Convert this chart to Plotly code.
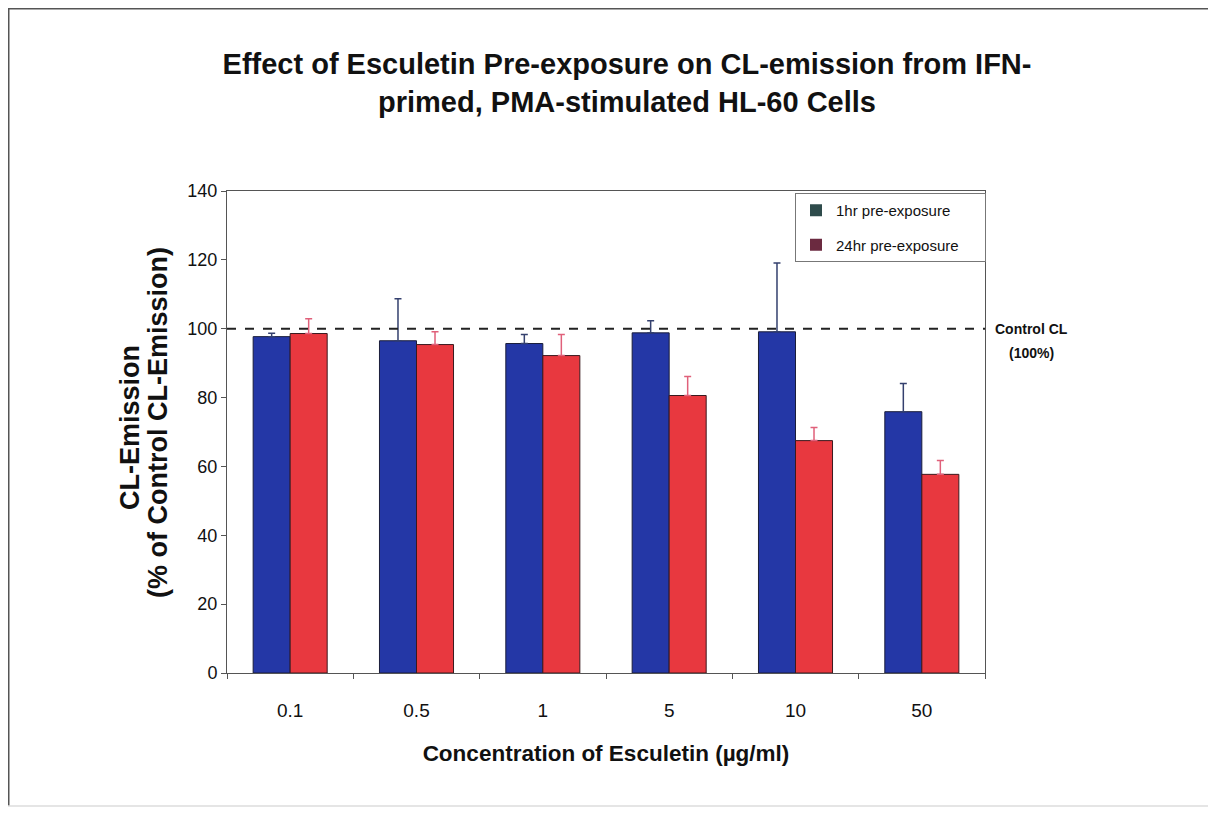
import plotly.graph_objects as go

categories = ["0.1", "0.5", "1", "5", "10", "50"]
one_hr = [97.7, 96.5, 95.7, 98.8, 99.1, 75.9]
one_hr_err = [1.0, 12.2, 2.6, 3.5, 20.0, 8.2]
twentyfour_hr = [98.6, 95.4, 92.2, 80.6, 67.5, 57.7]
twentyfour_hr_err = [4.3, 3.7, 6.1, 5.5, 3.8, 4.0]
control_level = 100
y_ticks = [0, 20, 40, 60, 80, 100, 120, 140]

SANS = "Liberation Sans, Arial, sans-serif"

# the page body adds an 8px margin; the figure is sized to fit the 1216x815 window
OFF = 8
W, H = 1216 - 2 * OFF, 815 - 2 * OFF
PL, PR, PT, PB = 227, 985, 191, 673          # plot area in page pixels
L, T = PL - OFF, PT - OFF
R, B = W - (PR - OFF), H - (PB - OFF)
PW, PH = W - L - R, H - T - B


def px(x):
    return (x - OFF - L) / PW


def py(y):
    return (H - B - (y - OFF)) / PH


fig = go.Figure()
fig.add_trace(go.Bar(
    x=categories, y=one_hr, name="1hr pre-exposure", showlegend=False,
    marker=dict(color="#2437a6", line=dict(color="#1a1d3a", width=1)),
    error_y=dict(type="data", array=one_hr_err, arrayminus=[0] * len(one_hr),
                 symmetric=False, color="#34406e", thickness=1.5, width=3.5),
))
fig.add_trace(go.Bar(
    x=categories, y=twentyfour_hr, name="24hr pre-exposure", showlegend=False,
    marker=dict(color="#e8383f", line=dict(color="#3a1a1f", width=1)),
    error_y=dict(type="data", array=twentyfour_hr_err, arrayminus=[0] * len(twentyfour_hr),
                 symmetric=False, color="#e0607a", thickness=1.5, width=3.5),
))
# legend swatches
pad = "\u00a0" * 5
fig.add_trace(go.Scatter(x=[None], y=[None], mode="markers", name="1hr pre-exposure" + pad,
                         marker=dict(symbol="square", size=9, color="#2e4b4b"),
                         legendgroup="a"))
fig.add_trace(go.Scatter(x=[None], y=[None], mode="markers", name="24hr pre-exposure" + pad,
                         marker=dict(symbol="square", size=9, color="#6b2a40"),
                         legendgroup="b"))

fig.add_shape(type="line", xref="paper", yref="y", x0=0, x1=1,
              y0=control_level, y1=control_level,
              line=dict(color="#222222", width=2, dash="dash"))

# outer frame: strong left/top edges, faint bottom edge
fig.add_shape(type="line", xref="paper", yref="paper",
              x0=px(OFF + 0.75), x1=px(OFF + 0.75), y0=py(OFF + H - 1), y1=py(OFF + 0.75),
              line=dict(color="#555555", width=1.5), layer="below")
fig.add_shape(type="line", xref="paper", yref="paper",
              x0=px(OFF), x1=px(OFF + W), y0=py(OFF + 0.75), y1=py(OFF + 0.75),
              line=dict(color="#555555", width=1.5), layer="below")
fig.add_shape(type="line", xref="paper", yref="paper",
              x0=px(OFF), x1=px(OFF + W), y0=py(OFF + H - 1), y1=py(OFF + H - 1),
              line=dict(color="#dddddd", width=1.5), layer="below")

fig.add_annotation(xref="paper", yref="y", x=px(993), y=control_level,
                   text="<b>Control CL</b>", showarrow=False, xanchor="left",
                   yanchor="middle", font=dict(family=SANS, size=14, color="#111"))
fig.add_annotation(xref="paper", yref="y", x=px(1007), y=control_level - 7,
                   text="<b>(100%)</b>", showarrow=False, xanchor="left",
                   yanchor="middle", font=dict(family=SANS, size=14, color="#111"))

# y-axis title as two rotated lines
fig.add_annotation(xref="paper", yref="paper", x=px(130), y=py(428),
                   text="<b>CL-Emission</b>", showarrow=False, textangle=-90,
                   xanchor="center", yanchor="middle",
                   font=dict(family=SANS, size=27, color="#111"))
fig.add_annotation(xref="paper", yref="paper", x=px(158), y=py(423),
                   text="<b>(% of Control CL-Emission)</b>", showarrow=False, textangle=-90,
                   xanchor="center", yanchor="middle",
                   font=dict(family=SANS, size=27, color="#111"))

fig.update_layout(
    width=W, height=H,
    margin=dict(l=L, r=R, t=T, b=B),
    paper_bgcolor="white", plot_bgcolor="white",
    barmode="group", bargap=0.414, bargroupgap=0,
    title=dict(text="<b>Effect of Esculetin Pre-exposure on CL-emission from IFN-<br>primed, PMA-stimulated HL-60 Cells</b>",
               xref="container", x=(627 - OFF) / W, xanchor="center",
               y=1 - 66 / H, yanchor="middle",
               font=dict(family=SANS, size=29, color="#111")),
    legend=dict(x=px(795), y=py(193), xanchor="left", yanchor="top",
                bgcolor="white", bordercolor="#777777", borderwidth=1,
                font=dict(family=SANS, size=15, color="#111"),
                tracegroupgap=12, itemsizing="constant"),
    font=dict(family=SANS, color="#111"),
)
fig.update_xaxes(
    showline=True, linecolor="#555555", linewidth=1, mirror=True,
    ticks="outside", tickson="boundaries", ticklen=5, tickcolor="#555555",
    tickfont=dict(family=SANS, size=19, color="#111"), ticklabelstandoff=20,
    title=dict(text="<b>Concentration of Esculetin (µg/ml)</b>",
               font=dict(family=SANS, size=22.5, color="#111"), standoff=25),
    showgrid=False,
)
fig.update_yaxes(
    range=[0, 140], tickvals=y_ticks,
    showline=True, linecolor="#555555", linewidth=1, mirror=True,
    ticks="outside", ticklen=5, tickcolor="#555555",
    tickfont=dict(family=SANS, size=18, color="#111"),
    showgrid=False, zeroline=False,
)

fig.write_html("out.html")
